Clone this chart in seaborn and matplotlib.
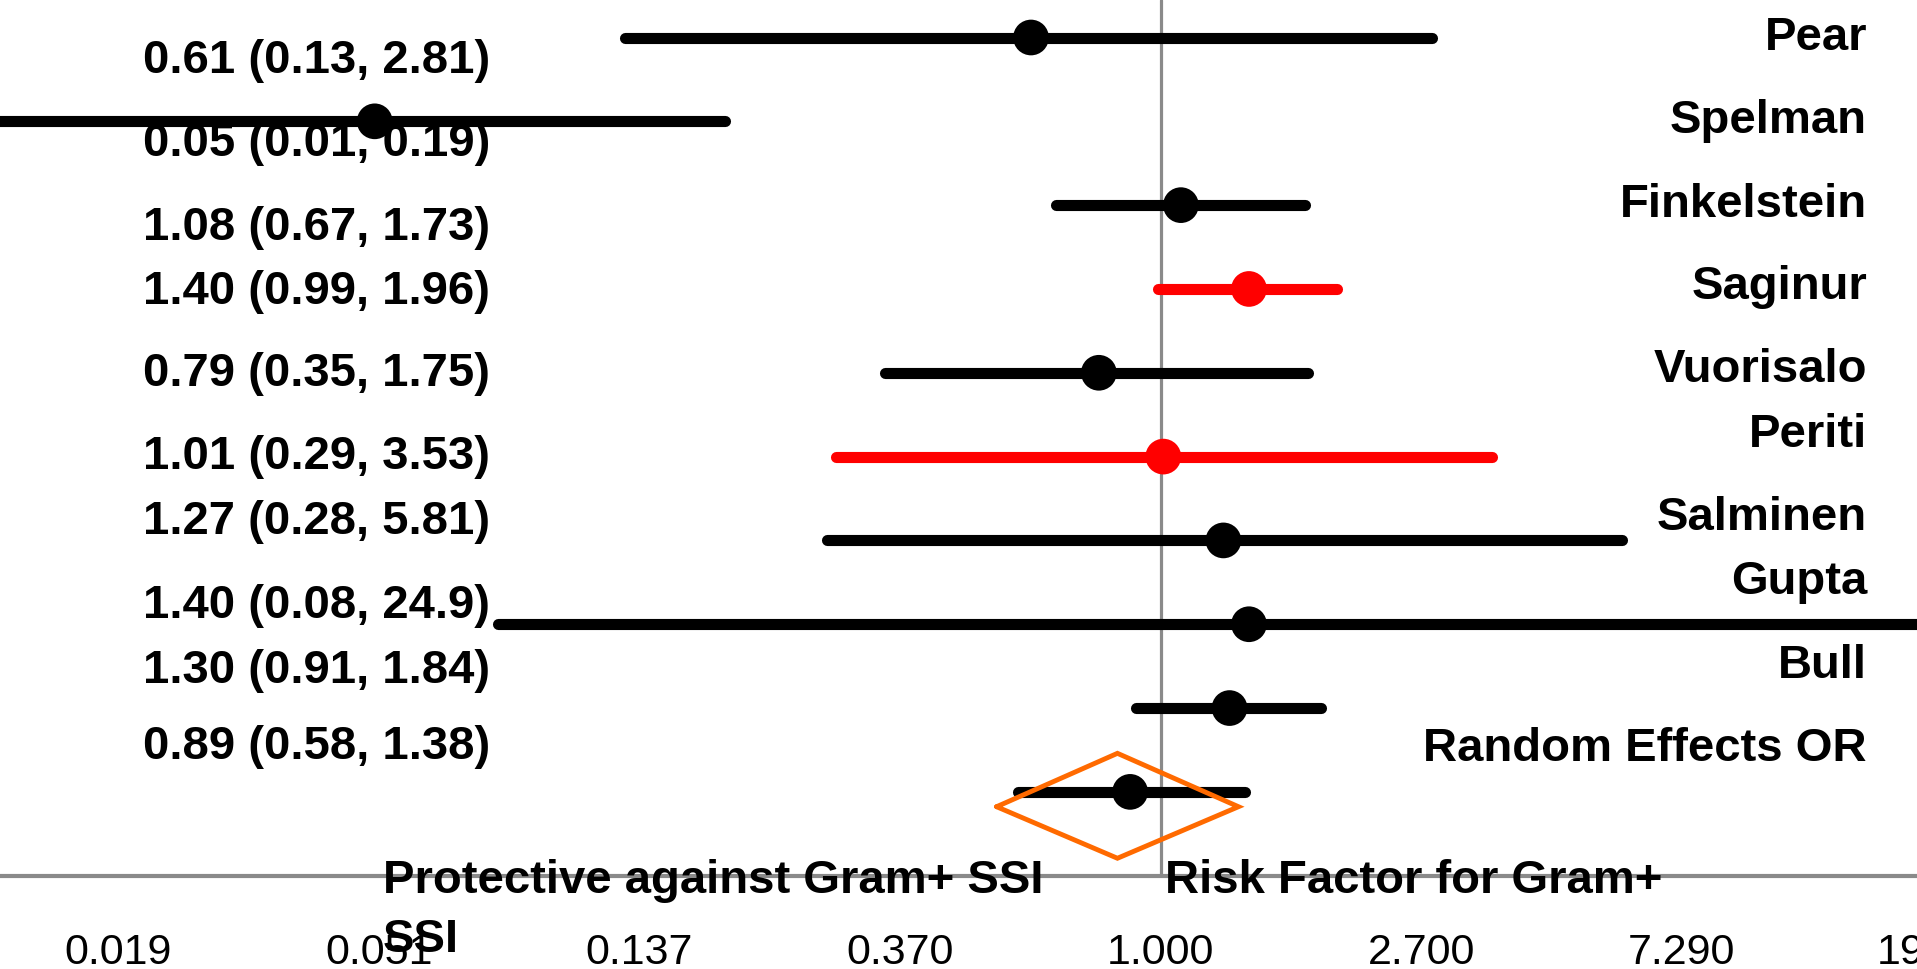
import numpy as np
import pandas as pd
import matplotlib
matplotlib.use("Agg")
import matplotlib.pyplot as plt
import matplotlib.transforms as mtransforms
from matplotlib.ticker import FixedLocator, FixedFormatter, NullLocator
import seaborn as sns

# ---------------- data ----------------
studies = ["Pear", "Spelman", "Finkelstein", "Saginur", "Vuorisalo",
           "Periti", "Salminen", "Gupta", "Bull", "Random Effects OR"]
odds_ratio = [0.61, 0.05, 1.08, 1.40, 0.79, 1.01, 1.27, 1.40, 1.30, 0.89]
ci_lower = [0.13, 0.01, 0.67, 0.99, 0.35, 0.29, 0.28, 0.08, 0.91, 0.58]
ci_upper = [2.81, 0.19, 1.73, 1.96, 1.75, 3.53, 5.81, 24.9, 1.84, 1.38]
highlight = [False, False, False, True, False, True, False, False, False, False]
or_labels = ["0.61 (0.13, 2.81)", "0.05 (0.01, 0.19)", "1.08 (0.67, 1.73)",
             "1.40 (0.99, 1.96)", "0.79 (0.35, 1.75)", "1.01 (0.29, 3.53)",
             "1.27 (0.28, 5.81)", "1.40 (0.08, 24.9)", "1.30 (0.91, 1.84)",
             "0.89 (0.58, 1.38)"]
# pooled estimate diamond (lower, point, upper)
diamond_or = [0.535, 0.848, 1.345]
tick_values = [2.7 ** k for k in range(-4, 4)]
tick_labels = ["0.019", "0.051", "0.137", "0.370", "1.000", "2.700", "7.290", "19.683"]
left_caption = "Protective against Gram+ SSI"
left_caption_wrap = "SSI"
right_caption = "Risk Factor for Gram+"

# ---------------- layout ----------------
W, H = 1917, 969
n = len(studies)
rows = np.arange(n, 0, -1)            # Pear at top
label_y = [9.577, 8.586, 7.590, 6.821, 5.842, 4.852, 4.077, 3.069, 2.299, 1.392]
name_y = [9.851, 8.861, 7.859, 6.880, 5.890, 5.115, 4.124, 3.361, 2.359, 1.368]

sns.set_style("white")
plt.rcParams["font.family"] = ["Liberation Sans", "DejaVu Sans"]

fig = plt.figure(figsize=(W / 100, H / 100), dpi=100)
axis_y_px = 875.7
ax = fig.add_axes([0, (H - axis_y_px) / H, 2000 / W, axis_y_px / H])

df = pd.DataFrame({"study": studies, "OR": odds_ratio, "lo": ci_lower,
                   "hi": ci_upper, "row": rows,
                   "group": np.where(highlight, "red", "black")})

gray = "#8a8a8a"
ax.axvline(1.0, color=gray, lw=2.3, zorder=1)

for _, r in df.iterrows():
    ax.plot([r.lo, r.hi], [r.row, r.row], color="#ff0000" if r.group == "red" else "black",
            lw=8.0, solid_capstyle="round", zorder=3)

sns.scatterplot(data=df, x="OR", y="row", hue="group",
                palette={"black": "black", "red": "#ff0000"},
                s=660, edgecolor="none", linewidth=0, legend=False, ax=ax, zorder=4)

# diamond for pooled estimate
dx = [diamond_or[0], diamond_or[1], diamond_or[2], diamond_or[1], diamond_or[0]]
dy = [0.823, 1.46, 0.823, 0.208, 0.823]
ax.plot(dx, dy, color="#ff6a00", lw=3.5, zorder=5, solid_joinstyle="miter")

ax.set_xscale("log")
s = 260.6
x0 = 1160.7
ax.set_xlim(2.7 ** (-x0 / s), 2.7 ** ((2000 - x0) / s))
ax.set_ylim(0, axis_y_px / 83.82)
ax.xaxis.set_major_locator(FixedLocator(tick_values))
ax.xaxis.set_major_formatter(FixedFormatter(tick_labels))
ax.xaxis.set_minor_locator(NullLocator())
ax.set_yticks([])
ax.set_xlabel("")
ax.set_ylabel("")
for side in ["top", "left", "right"]:
    ax.spines[side].set_visible(False)
ax.spines["bottom"].set_color(gray)
ax.spines["bottom"].set_linewidth(3.0)
ax.tick_params(axis="x", direction="out", length=12, width=2.2, color=gray,
               labelsize=31, labelcolor="black", pad=29)
ax.set_facecolor("white")

# OR labels on the left, study names on the right
trans = mtransforms.blended_transform_factory(fig.transFigure, ax.transData)
for txt, y in zip(or_labels, label_y):
    ax.text(143 / W, y, txt, transform=trans, ha="left", va="baseline",
            fontsize=34, fontweight="bold", color="black", zorder=2)
for name, y in zip(studies, name_y):
    ax.text(1867 / W, y, name, transform=trans, ha="right", va="baseline",
            fontsize=34, fontweight="bold", color="black", zorder=2)

fig.text(383 / W, (H - 893) / H, left_caption, ha="left", va="baseline",
         fontsize=34, fontweight="bold", color="black")
fig.text(383 / W, (H - 952) / H, left_caption_wrap, ha="left", va="baseline",
         fontsize=34, fontweight="bold", color="black")
fig.text(1165 / W, (H - 893) / H, right_caption, ha="left", va="baseline",
         fontsize=34, fontweight="bold", color="black")

fig.savefig("out.png", dpi=100, facecolor="white")
